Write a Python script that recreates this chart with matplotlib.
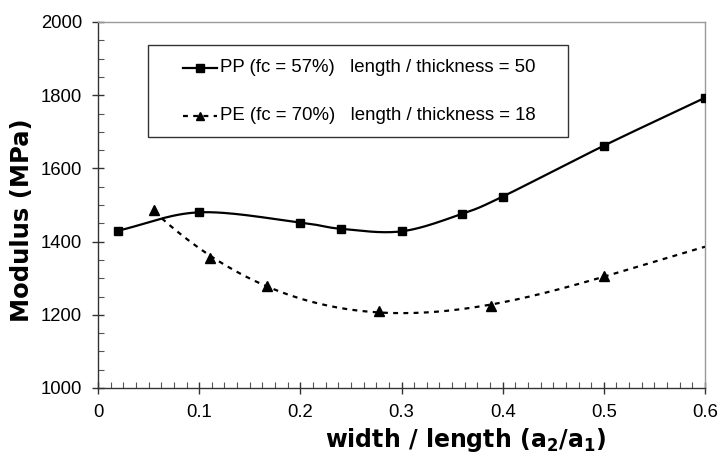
import matplotlib
matplotlib.use("Agg")
import matplotlib.pyplot as plt
import numpy as np
from matplotlib.ticker import MultipleLocator

plt.rcParams['font.family'] = ['Liberation Sans', 'DejaVu Sans']
plt.rcParams['mathtext.default'] = 'bf'

# PP (fc = 57%), length / thickness = 50
pp_x = [0.02, 0.1, 0.2, 0.24, 0.3, 0.36, 0.4, 0.5, 0.6]
pp_y = [1430, 1480, 1452, 1435, 1428, 1476, 1523, 1662, 1793]

# PE (fc = 70%), length / thickness = 18
pe_x = [0.0556, 0.1111, 0.1667, 0.2778, 0.3889, 0.5]
pe_y = [1485, 1355, 1280, 1210, 1225, 1305]
pe_trend_end = 0.6

x_ticks = [0, 0.1, 0.2, 0.3, 0.4, 0.5, 0.6]
x_ticklabels = ['0', '0.1', '0.2', '0.3', '0.4', '0.5', '0.6']
legend_labels = ['PP (fc = 57%)   length / thickness = 50',
                 'PE (fc = 70%)   length / thickness = 18']

DOTS = (0, (2.2, 2.4))


def catmull_rom(x, y, n=30):
    # smooth curve through the points, like the spreadsheet smoothed line
    x = np.asarray(x, float)
    y = np.asarray(y, float)
    px = np.concatenate([[2 * x[0] - x[1]], x, [2 * x[-1] - x[-2]]])
    py = np.concatenate([[2 * y[0] - y[1]], y, [2 * y[-1] - y[-2]]])
    t = np.linspace(0, 1, n)
    xs, ys = [], []
    for i in range(1, len(px) - 2):
        for p, out in ((px, xs), (py, ys)):
            p0, p1, p2, p3 = p[i - 1], p[i], p[i + 1], p[i + 2]
            out.extend(0.5 * ((2 * p1) + (-p0 + p2) * t
                              + (2 * p0 - 5 * p1 + 4 * p2 - p3) * t ** 2
                              + (-p0 + 3 * p1 - 3 * p2 + p3) * t ** 3))
    return np.array(xs), np.array(ys)


W, H = 722, 455
L, R, T, B = 98, 705, 22, 388

fig = plt.figure(figsize=(W / 100, H / 100), dpi=100)
ax = fig.add_axes([L / W, (H - B) / H, (R - L) / W, (B - T) / H])


def frac(px, py):
    # pixel position -> axes fraction
    return (px - L) / (R - L), (B - py) / (B - T)


sx, sy = catmull_rom(pp_x, pp_y)
ax.plot(sx, sy, color='black', lw=1.6, zorder=3)
ax.plot(pp_x, pp_y, ls='none', marker='s', ms=6, color='black', zorder=4)

coef = np.polyfit(pe_x, pe_y, 3)
tx = np.linspace(pe_x[0], pe_trend_end, 200)
ax.plot(tx, np.polyval(coef, tx), color='black', lw=1.6, ls=DOTS, zorder=3)
ax.plot(pe_x, pe_y, ls='none', marker='^', ms=6.5, color='black', zorder=4)

ax.set_xlim(0, 0.6)
ax.set_ylim(1000, 2000)
ax.set_xticks(x_ticks)
ax.set_xticklabels(x_ticklabels)
ax.xaxis.set_minor_locator(MultipleLocator(0.0125))
ax.yaxis.set_major_locator(MultipleLocator(200))
ax.yaxis.set_minor_locator(MultipleLocator(50))

ax.tick_params(which='major', direction='inout', length=9, width=1, color='#333333',
               labelsize=13.3, pad=7)
ax.tick_params(which='minor', direction='in', length=4, width=0.8, color='#555555')

for s in ['left', 'bottom']:
    ax.spines[s].set_color('#333333')
    ax.spines[s].set_linewidth(1)
for s in ['top', 'right']:
    ax.spines[s].set_color('#999999')
    ax.spines[s].set_linewidth(1)

ax.set_xlabel('width / length (a$_2$/a$_1$)', fontsize=17, fontweight='bold',
              family='DejaVu Sans')
ax.xaxis.set_label_coords(0.605, -0.105)
ax.set_ylabel('Modulus (MPa)', fontsize=17.5, fontweight='bold', family='DejaVu Sans')
ax.yaxis.set_label_coords(-0.106, 0.459)

# legend box drawn by hand
x0, y0 = frac(148, 137)
x1, y1 = frac(568, 45)
ax.add_patch(plt.Rectangle((x0, y0), x1 - x0, y1 - y0, transform=ax.transAxes,
                           fill=True, facecolor='white', edgecolor='#333333',
                           lw=1, zorder=5))
rows = [(68, '-', 's', 5.5), (116, DOTS, '^', 5.5)]
for (ry, ls, mk, ms), lab in zip(rows, legend_labels):
    hx0, hy = frac(183, ry)
    hx1, _ = frac(217, ry)
    hxm, _ = frac(200, ry)
    ax.plot([hx0, hx1], [hy, hy], transform=ax.transAxes, color='black',
            lw=1.6, ls=ls, zorder=6, clip_on=False)
    ax.plot([hxm], [hy], transform=ax.transAxes, color='black', marker=mk,
            ms=ms, zorder=6, clip_on=False)
    tx0, _ = frac(220, ry)
    ax.text(tx0, hy, lab, transform=ax.transAxes, fontsize=13.4, va='center',
            ha='left', zorder=6)

fig.savefig('out.png', dpi=100)
